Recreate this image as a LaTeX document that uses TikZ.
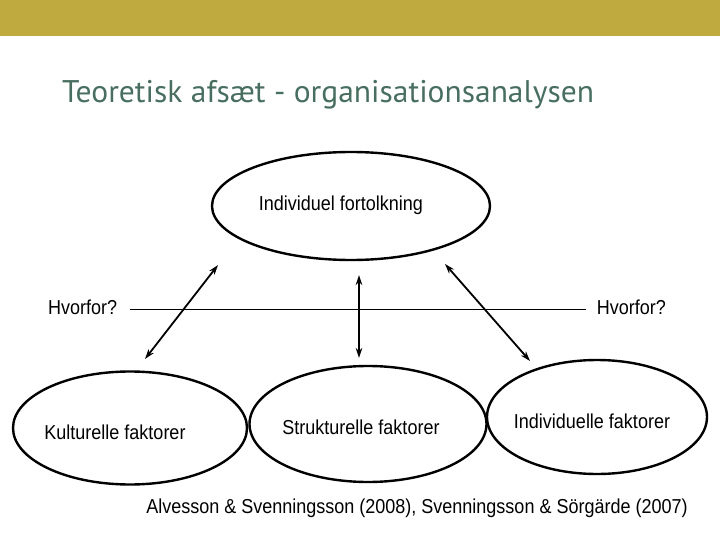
\documentclass[tikz,border=0pt]{standalone}
\usepackage{fontspec}
\setmainfont{Liberation Sans}
\newfontfamily\titelfont{PT Sans}
\usetikzlibrary{arrows.meta,shapes.geometric}
\definecolor{bjaelke}{RGB}{191,170,64}
\definecolor{titelgroen}{RGB}{72,110,96}
\newcommand{\hoej}[1]{\scalebox{1}[1.12]{#1}}
\tikzset{
  faktor/.style={draw,line width=2.4pt,ellipse,inner sep=0pt},
  pil/.style={line width=1.8pt,{Stealth[length=10pt,width=6.5pt]}-{Stealth[length=10pt,width=6.5pt]}},
  tekst/.style={font=\fontsize{18}{21}\selectfont,inner sep=0pt}
}
\begin{document}
\begin{tikzpicture}[x=1pt,y=-1pt]
  \useasboundingbox (0,0) rectangle (720,540);
  \fill[bjaelke] (0,0) rectangle (720,36);
  \node[titelgroen,anchor=base west,inner sep=0pt,font=\titelfont\fontsize{29}{34}\selectfont] (titel) at (62,103)
    {\scalebox{1.087}[1.08]{Teoretisk afsæt - organisationsanalysen}};
  % ellipser
  \node[faktor,minimum width=278pt,minimum height=108pt] (fortolk) at (351,206) {};
  \node[tekst] at (341,205) {\hoej{Individuel fortolkning}};
  \node[faktor,minimum width=234pt,minimum height=113pt] (kultur) at (130,428) {};
  \node[tekst] at (115,432) {\hoej{Kulturelle faktorer}};
  \node[faktor,minimum width=237pt,minimum height=116pt] (struktur) at (368,424) {};
  \node[tekst] at (361,427) {\hoej{Strukturelle faktorer}};
  \node[faktor,minimum width=220pt,minimum height=114pt] (indiv) at (597,417) {};
  \node[tekst] at (592,421) {\hoej{Individuelle faktorer}};
  % hvorfor-linjen
  \node[tekst,anchor=west] (hvorV) at (48,307) {\hoej{Hvorfor?}};
  \node[tekst,anchor=east] (hvorH) at (666,307) {\hoej{Hvorfor?}};
  \draw[line width=0.8pt] (hvorV.east) ++(13,2) coordinate (linV) -- (586,309) coordinate (linH);
  % pile
  \coordinate (p1a) at (218,265);
  \coordinate (p1b) at (145,359);
  \coordinate (p2a) at (359,275);
  \coordinate (p2b) at (359,358);
  \coordinate (p3a) at (445,264);
  \coordinate (p3b) at (530,361);
  \draw[pil] (p1a) -- (p1b);
  \draw[pil] (p2a) -- (p2b);
  \draw[pil] (p3a) -- (p3b);
  \node[tekst,anchor=base] (kilde) at (417,513) {\hoej{Alvesson \& Svenningsson (2008), Svenningsson \& Sörgärde (2007)}};
\end{tikzpicture}
\end{document}
